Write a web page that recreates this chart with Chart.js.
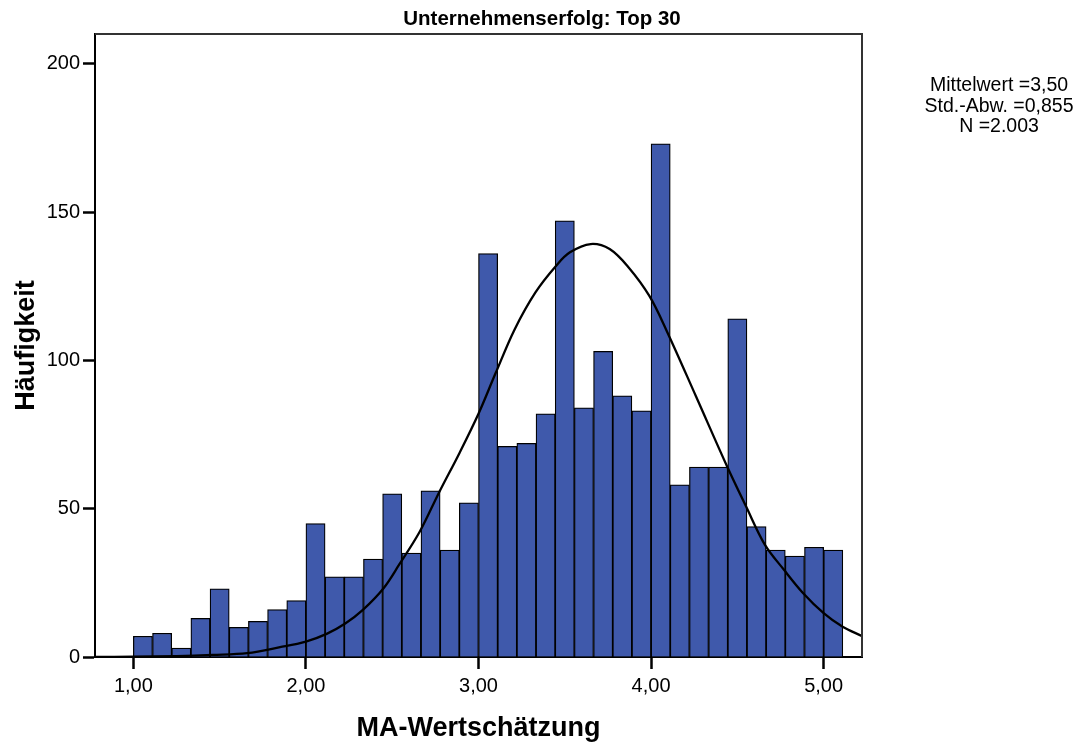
<!DOCTYPE html>
<html>
<head>
<meta charset="utf-8">
<title>Unternehmenserfolg: Top 30</title>
<script src="https://cdn.jsdelivr.net/npm/chart.js@4"></script>
<style>
  html, body { margin: 0; padding: 0; background: #fff; }
</style>
</head>
<body>
<canvas id="hist" width="1084" height="748"></canvas>
<script>
// Histogram bins start at 1,00, each bin is 1/9 wide
const binStart = 1.0;
const binWidth = 1 / 9;
const counts = [
  7, 8, 3, 13, 23, 10, 12, 16, 19,
  45, 27, 27, 33, 55, 35, 56, 36, 52,
  136, 71, 72, 82, 147, 84, 103, 88, 83,
  173, 58, 64, 64, 114, 44, 36, 34, 37,
  36
];

// Normal curve
const curveX = [0.778, 1.0, 1.25, 1.46, 1.66, 1.85, 2.0, 2.12, 2.23, 2.33, 2.45, 2.54, 2.66, 2.77, 2.89,
  3.0, 3.1, 3.21, 3.33, 3.45, 3.53, 3.65, 3.76, 3.87, 3.99, 4.09, 4.26, 4.44, 4.55, 4.66,
  4.77, 4.88, 5.0, 5.11, 5.22];
const curveY = [0, 0.1, 0.3, 0.7, 1.3, 3.3, 5.2, 7.8, 11.4, 15.9, 23.2, 31.1, 42.3, 55.3, 68.8,
  82, 95.8, 110.5, 122.9, 131.9, 136.4, 139.2, 137.5, 131.3, 121.7, 110, 87.9, 64.3, 50.8, 37.8,
  29.4, 21.6, 14.8, 10.2, 7.1];

const xTickValues = [1, 2, 3, 4, 5];
const xTickLabels = ['1,00', '2,00', '3,00', '4,00', '5,00'];
const yTickValues = [0, 50, 100, 150, 200];
const yTickLabels = ['0', '50', '100', '150', '200'];

const chartTitle = 'Unternehmenserfolg: Top 30';
const statsLines = ['Mittelwert =3,50', 'Std.-Abw. =0,855', 'N =2.003'];

const FONT = 'Arial, "Liberation Sans", sans-serif';
Chart.defaults.font.family = FONT;
Chart.defaults.color = '#000';

// title, stats box and the top/right frame
const extras = {
  id: 'extras',
  afterDraw(chart) {
    const ctx = chart.ctx;
    const a = chart.chartArea;
    ctx.save();
    ctx.strokeStyle = '#333';
    ctx.lineWidth = 2;
    ctx.beginPath();
    ctx.moveTo(a.left, a.top);
    ctx.lineTo(a.right, a.top);
    ctx.lineTo(a.right, a.bottom);
    ctx.stroke();

    ctx.fillStyle = '#000';
    ctx.textAlign = 'center';
    ctx.textBaseline = 'alphabetic';
    ctx.font = 'bold 20.5px ' + FONT;
    ctx.fillText(chartTitle, chart.width / 2, 25);

    ctx.font = '19.5px ' + FONT;
    statsLines.forEach(function(line, i) {
      ctx.fillText(line, 999, 91 + i * 20.5);
    });
    ctx.restore();
  }
};

function axisGrid() {
  return {
    offset: false,
    drawOnChartArea: false,
    drawTicks: true,
    tickLength: 12,
    tickColor: '#000',
    tickWidth: 2.5
  };
}

new Chart(document.getElementById('hist'), {
  type: 'bar',
  data: {
    datasets: [{
      type: 'line',
      data: curveX.map((x, i) => ({ x: x, y: curveY[i] })),
      borderColor: '#000',
      borderWidth: 2.3,
      pointRadius: 0,
      fill: false,
      tension: 0.35,
      order: 0
    }, {
      type: 'bar',
      data: counts.map((c, i) => ({ x: binStart + (i + 0.5) * binWidth, y: c })),
      backgroundColor: '#3f59ab',
      borderColor: '#000',
      borderWidth: 1.25,
      barPercentage: 1,
      categoryPercentage: 1,
      order: 1
    }]
  },
  options: {
    responsive: false,
    animation: false,
    layout: { padding: { left: 0, right: 222, top: 34, bottom: 0 } },
    plugins: {
      legend: { display: false },
      tooltip: { enabled: false }
    },
    scales: {
      x: {
        type: 'linear',
        min: binStart - 2 * binWidth,
        max: 5 + 2 * binWidth,
        offset: false,
        afterFit: (s) => { s.height = 91; },
        afterBuildTicks: (s) => { s.ticks = xTickValues.map(v => ({ value: v })); },
        ticks: {
          padding: 5,
          font: { size: 20 },
          callback: (v) => xTickLabels[xTickValues.indexOf(v)]
        },
        grid: axisGrid(),
        border: { display: true, color: '#000', width: 2 },
        title: {
          display: true,
          text: 'MA-Wertschätzung',
          font: { size: 27, weight: 'bold' },
          padding: { top: 0, bottom: 3 }
        }
      },
      y: {
        min: 0,
        max: 210,
        afterFit: (s) => { s.width = 95; },
        afterBuildTicks: (s) => { s.ticks = yTickValues.map(v => ({ value: v })); },
        ticks: {
          padding: 3,
          font: { size: 20 },
          callback: (v) => yTickLabels[yTickValues.indexOf(v)]
        },
        grid: axisGrid(),
        border: { display: true, color: '#000', width: 2 },
        title: {
          display: true,
          text: 'Häufigkeit',
          font: { size: 27, weight: 'bold' },
          padding: { top: 10, bottom: 0 }
        }
      }
    }
  },
  plugins: [extras]
});
</script>
</body>
</html>
